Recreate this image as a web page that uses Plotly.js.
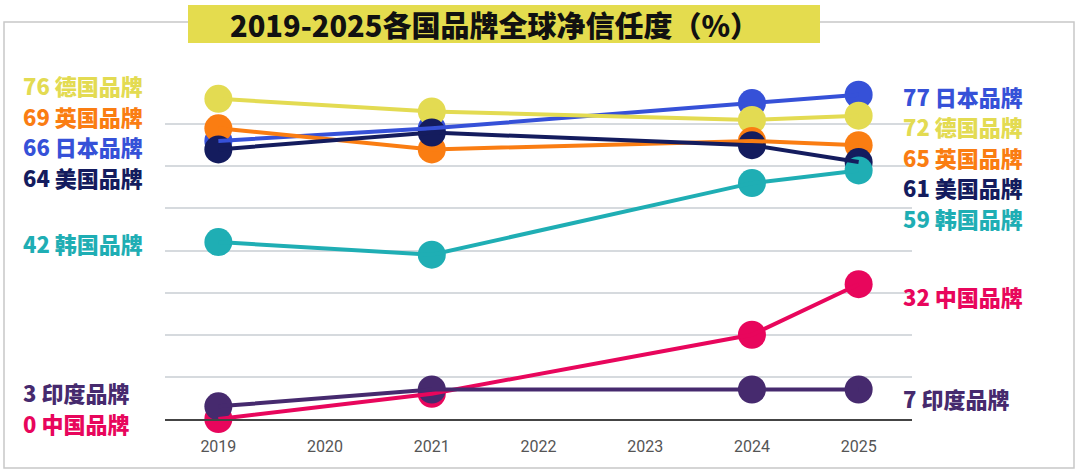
<!DOCTYPE html>
<html>
<head>
<meta charset="utf-8">
<script src="https://cdn.plot.ly/plotly-3.0.1.min.js"></script>
<style>
html,body{margin:0;padding:0;background:#fff;}
#chart{width:1080px;height:471px;}
</style>
</head>
<body>
<div id="chart"></div>
<script>
// ---- data ----
const years = [2019, 2021, 2024, 2025];
const brands = ["日本品牌", "德国品牌", "英国品牌", "美国品牌", "韩国品牌", "中国品牌", "印度品牌"];
const japan   = [66, 69, 75, 77];
const germany = [76, 73, 71, 72];
const uk      = [69, 64, 66, 65];
const usa     = [64, 68, 65, 61];
const korea   = [42, 39, 56, 59];
const china   = [0, 6, 20, 32];
const india   = [3, 7, 7, 7];
const xTicks = [2019, 2020, 2021, 2022, 2023, 2024, 2025];
const titleText = "2019-2025各国品牌全球净信任度（%）";

// ---- styles ----
const series = [japan, germany, uk, usa, korea, china, india];
const colors = ["#3651D8", "#E3DB52", "#FA7D12", "#141C5E", "#1FAEB4", "#E8065C", "#462A6E"];
// label vertical centres in pixels for left (2019) and right (2025) labels
const leftLabelPx  = [146, 85, 116, 177, 243, 423, 392];
const rightLabelPx = [96, 126, 157, 187, 218, 296, 398];

const M = {l:165, r:168, t:82, b:52};
const W = 1080, H = 471;
const pw = W - M.l - M.r, ph = H - M.t - M.b;
const px = x => (x - M.l) / pw;
const py = y => (H - M.b - y) / ph;

const traces = [];
series.forEach((s, i) => {
  traces.push({
    x: years, y: s, type: 'scatter', mode: 'markers', cliponaxis: false,
    marker: {size: 28, color: colors[i]}, hoverinfo: 'skip', showlegend: false
  });
});
series.forEach((s, i) => {
  traces.push({
    x: years, y: s, type: 'scatter', mode: 'lines', cliponaxis: false,
    line: {width: 4, color: colors[i]}, hoverinfo: 'skip', showlegend: false
  });
});

const labelFont = (c) => ({family: "Noto Sans CJK SC, sans-serif", size: 22, color: c, weight: 900});
const annotations = [];
series.forEach((s, i) => {
  annotations.push({
    xref: 'paper', yref: 'paper', x: px(21), y: py(leftLabelPx[i]), xanchor: 'left', yanchor: 'middle',
    text: s[0] + ' ' + brands[i], showarrow: false, font: labelFont(colors[i])
  });
  annotations.push({
    xref: 'paper', yref: 'paper', x: px(901), y: py(rightLabelPx[i]), xanchor: 'left', yanchor: 'middle',
    text: s[s.length - 1] + ' ' + brands[i], showarrow: false, font: labelFont(colors[i])
  });
});
annotations.push({
  xref: 'paper', yref: 'paper', x: px(494), y: py(24), xanchor: 'center', yanchor: 'middle',
  text: titleText, showarrow: false,
  font: {family: "Noto Sans CJK SC, sans-serif", size: 29, color: '#111', weight: 900}
});

const shapes = [
  {type: 'rect', xref: 'paper', yref: 'paper', x0: px(4), x1: px(1074), y0: py(468), y1: py(22),
   line: {color: '#c8c8c8', width: 1.5}, fillcolor: 'rgba(0,0,0,0)', layer: 'below'},
  {type: 'rect', xref: 'paper', yref: 'paper', x0: px(188), x1: px(820), y0: py(43), y1: py(5),
   line: {width: 0}, fillcolor: '#E4DC4E', layer: 'above'}
];

const layout = {
  width: W, height: H,
  margin: M,
  paper_bgcolor: '#fff', plot_bgcolor: '#fff',
  showlegend: false,
  xaxis: {
    range: [2018.5, 2025.5], tickvals: xTicks, ticktext: xTicks.map(String),
    showgrid: false, zeroline: false, showline: true, linecolor: '#444', linewidth: 2,
    ticks: '', ticklabelstandoff: 12,
    tickfont: {family: 'Roboto, sans-serif', size: 16, color: '#555'}
  },
  yaxis: {
    range: [0, 80], dtick: 10, showticklabels: false, ticks: '',
    showgrid: true, gridcolor: '#d6dade', gridwidth: 2, zeroline: false
  },
  shapes: shapes,
  annotations: annotations
};

Plotly.newPlot('chart', traces, layout, {staticPlot: true, displayModeBar: false});
</script>
</body>
</html>
